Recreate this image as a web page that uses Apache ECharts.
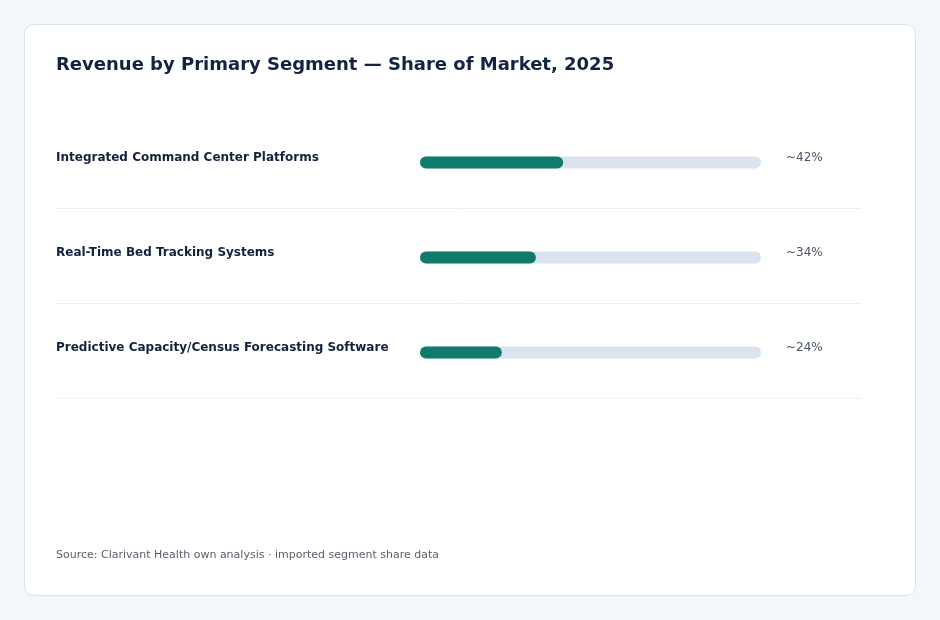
<!DOCTYPE html>
<html>
<head>
<meta charset="utf-8">
<script src="https://cdn.jsdelivr.net/npm/echarts@6/dist/echarts.min.js"></script>
<style>
  html, body { margin: 0; padding: 0; background: #f4f7fa; }
  #chart { width: 940px; height: 620px; }
</style>
</head>
<body>
<div id="chart"></div>
<script>
const segments = [
    'Integrated Command Center Platforms',
    'Real-Time Bed Tracking Systems',
    'Predictive Capacity/Census Forecasting Software'
];
const shares = [42, 34, 24];
const shareLabels = ['~42%', '~34%', '~24%'];
const trackMax = 100;

const FONT = '"DejaVu Sans", sans-serif';

const elem = document.getElementById('chart');
const myChart = echarts.init(elem, null, { renderer: 'canvas' });

// category axis with nothing drawn, shared settings
function hiddenCat(gridIndex) {
    return {
        gridIndex: gridIndex, type: 'category', data: segments, inverse: true,
        axisLine: { show: false }, axisTick: { show: false },
        axisLabel: { show: false }, splitLine: { show: false }
    };
}

const sepAxis = hiddenCat(1);
sepAxis.splitLine = {
    show: true,
    interval: function (index) { return index > 0; },
    lineStyle: { color: '#eceff3', width: 1 }
};

const labelAxis = hiddenCat(2);
labelAxis.axisLabel = {
    show: true,
    inside: true,
    margin: 0,
    align: 'left',
    fontFamily: FONT,
    fontSize: 12,
    fontWeight: 'bold',
    color: '#14213d'
};

myChart.setOption({
    animation: false,
    textStyle: { fontFamily: FONT },
    title: {
        text: 'Revenue by Primary Segment \u2014 Share of Market, 2025',
        left: 56,
        top: 56,
        padding: 0,
        textStyle: { fontFamily: FONT, fontSize: 18, fontWeight: 'bold', color: '#14233f' }
    },
    graphic: [
        {
            type: 'rect',
            z: -10,
            silent: true,
            shape: { x: 24.5, y: 24.5, width: 891, height: 571, r: 9 },
            style: { fill: '#ffffff', stroke: '#dde2e8', lineWidth: 1 }
        },
        {
            type: 'text',
            left: 56,
            top: 550,
            style: {
                text: 'Source: Clarivant Health own analysis \u00b7 imported segment share data',
                font: '11px ' + FONT,
                fill: '#58606c'
            }
        }
    ],
    grid: [
        { left: 420, right: 179, top: 115, height: 285 },
        { left: 56, right: 79, top: 113, height: 285 },
        { left: 56, right: 79, top: 110, height: 285 }
    ],
    xAxis: [
        { gridIndex: 0, type: 'value', min: 0, max: trackMax, show: false },
        { gridIndex: 1, type: 'value', min: 0, max: 1, show: false },
        { gridIndex: 2, type: 'value', min: 0, max: 1, show: false }
    ],
    yAxis: [hiddenCat(0), sepAxis, labelAxis],
    series: [
        {
            name: 'track',
            type: 'bar',
            xAxisIndex: 0, yAxisIndex: 0,
            data: segments.map(function () { return trackMax; }),
            barWidth: 12,
            barGap: '-100%',
            silent: true,
            itemStyle: { color: '#dbe4ee', borderRadius: 6 },
            label: {
                show: true,
                position: 'right',
                distance: 25,
                offset: [0, -5],
                formatter: function (p) { return shareLabels[p.dataIndex]; },
                fontFamily: FONT,
                fontSize: 12,
                color: '#4b5563'
            },
            z: 1
        },
        {
            name: 'share',
            type: 'bar',
            xAxisIndex: 0, yAxisIndex: 0,
            data: shares,
            barWidth: 12,
            itemStyle: { color: '#0e7b6d', borderRadius: 6 },
            z: 2
        }
    ]
});

window.addEventListener('resize', function () {
    myChart.resize();
});
</script>
</body>
</html>
